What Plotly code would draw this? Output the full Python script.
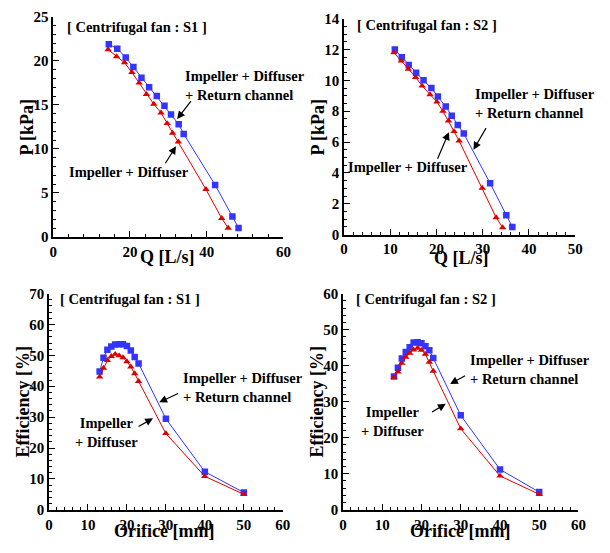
import plotly.graph_objects as go

# ---------------- data ----------------
# S1 : P vs Q
s1_q_full = [14.5, 16.7, 18.9, 20.9, 23.0, 25.0, 27.0, 29.0, 30.7, 32.7, 34.0, 42.2, 46.7, 48.3]
s1_p_full = [21.9, 21.4, 20.4, 19.3, 18.1, 17.0, 16.0, 14.9, 13.9, 12.8, 11.7, 5.9, 2.3, 1.0]
s1_q_id = [14.3, 16.5, 18.6, 20.5, 22.4, 24.3, 26.2, 28.1, 29.7, 31.1, 32.6, 39.8, 43.9, 45.6]
s1_p_id = [21.3, 20.5, 19.8, 18.7, 17.5, 16.2, 15.1, 14.1, 12.9, 11.8, 10.8, 5.4, 2.1, 1.0]

# S2 : P vs Q
s2_q_full = [11.0, 12.5, 14.0, 15.6, 17.2, 18.9, 20.3, 22.0, 23.3, 24.6, 25.9, 31.6, 35.1, 36.4]
s2_p_full = [12.0, 11.5, 11.0, 10.5, 10.0, 9.5, 8.95, 8.3, 7.7, 7.1, 6.55, 3.33, 1.26, 0.5]
s2_q_id = [10.8, 12.4, 13.9, 15.5, 16.9, 18.6, 20.1, 21.4, 22.6, 23.8, 24.9, 29.9, 32.9, 34.3]
s2_p_id = [11.8, 11.26, 10.73, 10.2, 9.64, 9.08, 8.6, 8.0, 7.38, 6.69, 6.08, 3.02, 1.11, 0.46]

# Efficiency vs orifice
orifice = [13, 14, 15, 16, 17, 18, 19, 20, 21, 22, 23, 30, 40, 50]
s1_eff_full = [44.8, 49.2, 51.8, 52.9, 53.5, 53.6, 53.6, 53.0, 51.6, 49.5, 47.4, 29.5, 12.3, 5.6]
s1_eff_id = [43.0, 45.9, 48.4, 49.7, 50.4, 49.9, 49.3, 48.0, 46.3, 44.1, 41.6, 24.7, 10.8, 5.0]
s2_eff_full = [37.0, 39.4, 42.0, 43.8, 45.1, 46.4, 46.5, 46.2, 45.4, 44.3, 42.1, 26.2, 11.2, 4.9]
s2_eff_id = [36.8, 38.3, 40.7, 42.4, 43.5, 44.4, 44.9, 44.3, 43.2, 41.0, 38.5, 22.5, 9.4, 4.3]

panel_titles = ["[ Centrifugal fan : S1 ]", "[ Centrifugal fan : S2 ]",
                "[ Centrifugal fan : S1 ]", "[ Centrifugal fan : S2 ]"]
x_titles = ["Q [L/s]", "Q [L/s]", "Orifice [mm]", "Orifice [mm]"]
y_titles = ["P [kPa]", "P [kPa]", "Efficiency [%]", "Efficiency [%]"]
label_full = "Impeller + Diffuser<br>+ Return channel"
label_id_line = "Impeller + Diffuser"
label_id_block = "Impeller<br>+ Diffuser"

BLUE = "#3434ff"
RED = "#dd0000"
FONT = "Liberation Serif"

# page has an 8px body margin: figure drawn 8px in from the window corner
OFF = 8
WIN_W, WIN_H = 610, 553
W, H = WIN_W - OFF, WIN_H - OFF


def px(xp):
    return (xp - OFF) / W


def py(yp):
    return 1 - (yp - OFF) / H


fig = go.Figure()

# panel pixel boxes in window coords: (x0, x1, ytop, ybottom)
boxes = [(50, 285, 9, 235.5), (346.7, 582.7, 10.7, 233.3),
         (45.7, 284.3, 294, 516.7), (345.7, 586, 294, 516.7)]
# positions of text in window pixel coords
title_pos = [(62, 19), (358, 17.5), (55, 299.5), (356.7, 299.5)]
xtitle_pos = [(167, 256), (466.7, 257), (163.3, 539), (465, 539)]
ytitle_x = [23, 320, 19, 319]

series = [
    (s1_q_full, s1_p_full, s1_q_id, s1_p_id),
    (s2_q_full, s2_p_full, s2_q_id, s2_p_id),
    (orifice, s1_eff_full, orifice, s1_eff_id),
    (orifice, s2_eff_full, orifice, s2_eff_id),
]

axes_cfg = [
    # x range, x dtick, x minor, y range, y dtick, y minor
    ([0, 60], 20, 4, [0, 25], 5, 1),
    ([0, 50], 10, 2, [0, 14], 2, 0.5),
    ([0, 60], 10, 2, [0, 70], 10, 2),
    ([0, 60], 10, 2, [0, 60], 10, 2),
]

tfont = dict(family=FONT, size=18, color="black", weight="bold")
afont = dict(family=FONT, size=14.5, color="black", weight="bold")

for i, (box, ser, cfg) in enumerate(zip(boxes, series, axes_cfg)):
    n = i + 1
    xa = "x" if n == 1 else f"x{n}"
    ya = "y" if n == 1 else f"y{n}"
    xfull, yfull, xid, yid = ser
    fig.add_trace(go.Scatter(x=xfull, y=yfull, mode="lines+markers", xaxis=xa, yaxis=ya,
                             line=dict(color=BLUE, width=1),
                             marker=dict(symbol="square", size=6.5, color=BLUE),
                             showlegend=False))
    fig.add_trace(go.Scatter(x=xid, y=yid, mode="lines+markers", xaxis=xa, yaxis=ya,
                             line=dict(color=RED, width=1),
                             marker=dict(symbol="triangle-up", size=6.5, color=RED),
                             showlegend=False))
    x0, x1, yt, yb = box
    xr, xd, xm, yr, yd, ym = cfg
    common = dict(showline=True, linecolor="black", linewidth=1.5, mirror=False,
                  showgrid=False, zeroline=False, ticks="inside", ticklen=6,
                  tickwidth=1, tickcolor="black",
                  tickfont=dict(family=FONT, size=15, color="black", weight="bold"))
    xkey = "xaxis" if n == 1 else f"xaxis{n}"
    ykey = "yaxis" if n == 1 else f"yaxis{n}"
    fig.layout[xkey] = dict(common, domain=[px(x0), px(x1)], range=xr, dtick=xd, tick0=0,
                            anchor=ya,
                            minor=dict(dtick=xm, ticks="inside", ticklen=3, tickcolor="black"))
    fig.layout[ykey] = dict(common, domain=[py(yb), py(yt)], range=yr, dtick=yd, tick0=0,
                            anchor=xa,
                            minor=dict(dtick=ym, ticks="inside", ticklen=3, tickcolor="black"))
    # panel title
    tx, ty = title_pos[i]
    fig.add_annotation(text=panel_titles[i], xref="paper", yref="paper",
                       x=px(tx), y=py(ty), xanchor="left", yanchor="middle", showarrow=False,
                       font=afont)
    # axis titles
    xx, xy = xtitle_pos[i]
    fig.add_annotation(text=x_titles[i], xref="paper", yref="paper", x=px(xx), y=py(xy),
                       xanchor="center", yanchor="middle", showarrow=False, font=tfont)
    fig.add_annotation(text=y_titles[i], xref="paper", yref="paper", x=px(ytitle_x[i]),
                       y=py((yt + yb) / 2), xanchor="center", yanchor="middle",
                       textangle=-90, showarrow=False, font=tfont)

# text labels (data coordinates)
labels = [
    ("x", "y", label_id_line, 19.7, 7.4, "center"),
    ("x", "y", label_full, 33.8, 17.2, "left"),
    ("x2", "y2", label_id_line, 13.9, 4.36, "center"),
    ("x2", "y2", label_full, 27.8, 8.5, "left"),
    ("x3", "y3", label_id_block, 14.7, 25.1, "center"),
    ("x3", "y3", label_full, 33.8, 39.6, "left"),
    ("x4", "y4", label_id_block, 12.6, 24.5, "center"),
    ("x4", "y4", label_full, 31.9, 39.0, "left"),
]
for xr_, yr_, txt, xv, yv, anc in labels:
    fig.add_annotation(text=txt, xref=xr_, yref=yr_, x=xv, y=yv, xanchor=anc,
                       yanchor="middle", align=anc, showarrow=False, font=afont)

# arrows: (xref, yref, tail x, tail y, head x, head y)
arrows = [
    ("x", "y", 29.0, 8.2, 32.0, 10.3),
    ("x", "y", 36.2, 15.6, 32.3, 13.4),
    ("x2", "y2", 20.1, 4.82, 22.7, 6.64),
    ("x2", "y2", 30.9, 7.0, 28.0, 5.5),
    ("x3", "y3", 22.6, 26.7, 26.7, 29.6),
    ("x3", "y3", 33.5, 37.9, 28.3, 34.8),
    ("x4", "y4", 22.3, 26.9, 26.2, 29.4),
    ("x4", "y4", 31.5, 37.4, 27.3, 34.9),
]
for xr_, yr_, tx, ty, hx, hy in arrows:
    fig.add_annotation(text="", xref=xr_, yref=yr_, x=hx, y=hy, axref=xr_, ayref=yr_,
                       ax=tx, ay=ty, showarrow=True, arrowhead=2, arrowsize=1.3,
                       arrowwidth=1.2, arrowcolor="black")

fig.update_layout(width=W, height=H, margin=dict(l=0, r=0, t=0, b=0),
                  plot_bgcolor="white", paper_bgcolor="white",
                  font=dict(family=FONT, color="black"))

fig.write_html("out.html")
